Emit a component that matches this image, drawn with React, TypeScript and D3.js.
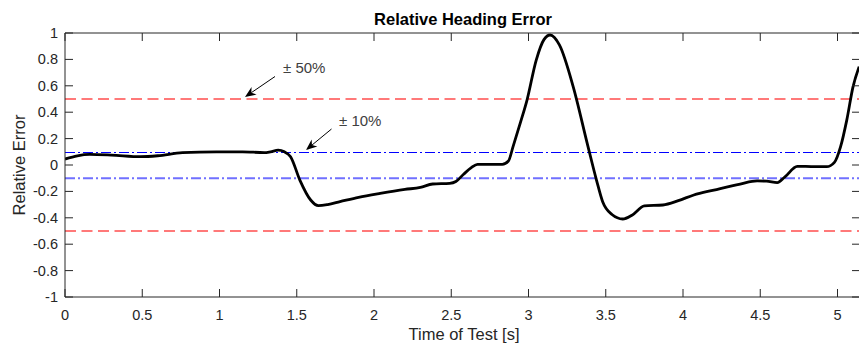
import React from "react";
import * as d3 from "d3";

const times = [0, 0.08, 0.16, 0.3, 0.49, 0.6, 0.76, 0.98, 1.15, 1.29, 1.33, 1.38, 1.42, 1.46, 1.52, 1.59, 1.64, 1.7, 1.78, 1.9, 2.04, 2.2, 2.3, 2.38, 2.49, 2.53, 2.58, 2.63, 2.67, 2.75, 2.83, 2.87, 2.9, 2.95, 2.99, 3.05, 3.1, 3.14, 3.2, 3.29, 3.38, 3.44, 3.48, 3.54, 3.61, 3.67, 3.75, 3.87, 3.97, 4.07, 4.2, 4.37, 4.48, 4.54, 4.61, 4.66, 4.74, 4.83, 4.93, 4.98, 5.02, 5.06, 5.1, 5.14];
const errors = [0.045, 0.07, 0.08, 0.075, 0.063, 0.07, 0.093, 0.1, 0.1, 0.094, 0.1, 0.112, 0.1, 0.063, -0.114, -0.265, -0.308, -0.3, -0.278, -0.245, -0.215, -0.185, -0.17, -0.144, -0.139, -0.125, -0.07, -0.02, 0.005, 0.005, 0.005, 0.03, 0.139, 0.33, 0.49, 0.795, 0.95, 0.985, 0.91, 0.59, 0.164, -0.114, -0.278, -0.375, -0.409, -0.38, -0.31, -0.303, -0.27, -0.227, -0.19, -0.144, -0.121, -0.122, -0.133, -0.09, -0.01, -0.012, -0.013, 0.02, 0.139, 0.34, 0.59, 0.745];

const xTicks = [0, 0.5, 1, 1.5, 2, 2.5, 3, 3.5, 4, 4.5, 5];
const yTicks = [-1, -0.8, -0.6, -0.4, -0.2, 0, 0.2, 0.4, 0.6, 0.8, 1];
const outerBounds = [-0.5, 0.5];
const innerBounds = [-0.1, 0.1];
const annotations = [
  { label: "± 50%", value: 0.5, tx: 283, ty: 73, from: [275, 76.5], to: [245, 97] },
  { label: "± 10%", value: 0.1, tx: 339, ty: 126, from: [331.5, 129], to: [306, 150] },
];

const W = 859;
const H = 350;
const L = 65;
const R = 860;
const T = 33;
const B = 297;
const FONT = "'Liberation Sans', Arial, Helvetica, sans-serif";
const AX = "#262626";

function Arrow({ from, to }: { from: number[]; to: number[] }) {
  const dx = to[0] - from[0];
  const dy = to[1] - from[1];
  const len = Math.hypot(dx, dy);
  const ux = dx / len;
  const uy = dy / len;
  const px = -uy;
  const py = ux;
  const hl = 11;
  const hw = 4.5;
  const back = [to[0] - ux * hl, to[1] - uy * hl];
  const notch = [to[0] - ux * hl * 0.7, to[1] - uy * hl * 0.7];
  const pts = [
    to,
    [back[0] + px * hw, back[1] + py * hw],
    notch,
    [back[0] - px * hw, back[1] - py * hw],
  ];
  return (
    <g>
      <line x1={from[0]} y1={from[1]} x2={notch[0]} y2={notch[1]} stroke="#000" strokeWidth={1} />
      <polygon points={pts.map((p) => p.join(",")).join(" ")} fill="#000" />
    </g>
  );
}

export default function App() {
  const x = d3.scaleLinear().domain([0, (R - L) / 154.5]).range([L, R]);
  const y = d3.scaleLinear().domain([-1, 1]).range([B, T]);
  const data = times.map((t, i) => [t, errors[i]] as [number, number]);
  const line = d3
    .line<[number, number]>()
    .x((d) => x(d[0]))
    .y((d) => y(d[1]))
    .curve(d3.curveMonotoneX);
  const fmt = (v: number) => String(Math.round(v * 10) / 10);

  return (
    <svg
      width={W}
      height={H}
      style={{ position: "absolute", left: 0, top: 0, background: "#fff" }}
      fontFamily={FONT}
    >
      <defs>
        <clipPath id="plot">
          <rect x={L} y={T} width={R - L} height={B - T} />
        </clipPath>
      </defs>
      <rect x={0} y={0} width={W} height={H} fill="#fff" />

      <g clipPath="url(#plot)">
        {outerBounds.map((v) => (
          <line key={"o" + v} x1={L} x2={R} y1={y(v)} y2={y(v)} stroke="#ff4d4d" strokeWidth={1.5} strokeDasharray="11,5.5" />
        ))}
        <line x1={L} x2={R} y1={Math.round(y(innerBounds[1])) + 0.5} y2={Math.round(y(innerBounds[1])) + 0.5} stroke="#0000ff" strokeWidth={1} strokeDasharray="10,3,2,3" />
        <line x1={L} x2={R} y1={y(innerBounds[0])} y2={y(innerBounds[0])} stroke="#7070ff" strokeWidth={2} strokeDasharray="10,3,2,3" />
        <path d={line(data) || ""} fill="none" stroke="#000" strokeWidth={2.8} strokeLinejoin="round" />
      </g>

      <line x1={L} x2={L} y1={T} y2={B} stroke={AX} strokeWidth={1} />
      <line x1={L} x2={R} y1={B} y2={B} stroke={AX} strokeWidth={1} />
      <line x1={L} x2={R} y1={T} y2={T} stroke={AX} strokeWidth={1} />
      <line x1={R} x2={R} y1={T} y2={B} stroke={AX} strokeWidth={1} />

      {xTicks.map((t) => (
        <g key={"x" + t}>
          <line x1={x(t)} x2={x(t)} y1={B} y2={B - 8} stroke={AX} strokeWidth={1} />
          <line x1={x(t)} x2={x(t)} y1={T} y2={T + 8} stroke={AX} strokeWidth={1} />
          <text x={x(t)} y={320} textAnchor="middle" fontSize={14.5} fill={AX}>
            {fmt(t)}
          </text>
        </g>
      ))}
      {yTicks.map((v) => (
        <g key={"y" + v}>
          <line x1={L} x2={L + 8} y1={y(v)} y2={y(v)} stroke={AX} strokeWidth={1} />
          <line x1={R - 8} x2={R} y1={y(v)} y2={y(v)} stroke={AX} strokeWidth={1} />
          <text x={58} y={y(v) + 5} textAnchor="end" fontSize={14.5} fill={AX}>
            {fmt(v)}
          </text>
        </g>
      ))}

      <text x={463} y={25} textAnchor="middle" fontSize={16.5} fontWeight="bold" fill="#000">
        Relative Heading Error
      </text>
      <text x={464} y={340} textAnchor="middle" fontSize={16.5} fill={AX}>
        Time of Test [s]
      </text>
      <text transform={`translate(25,165) rotate(-90)`} textAnchor="middle" fontSize={16.5} fill={AX}>
        Relative Error
      </text>

      {annotations.map((a) => (
        <g key={a.label}>
          <Arrow from={a.from} to={a.to} />
          <text x={a.tx} y={a.ty} fontSize={15} fill="#404040">
            {a.label}
          </text>
        </g>
      ))}
    </svg>
  );
}
